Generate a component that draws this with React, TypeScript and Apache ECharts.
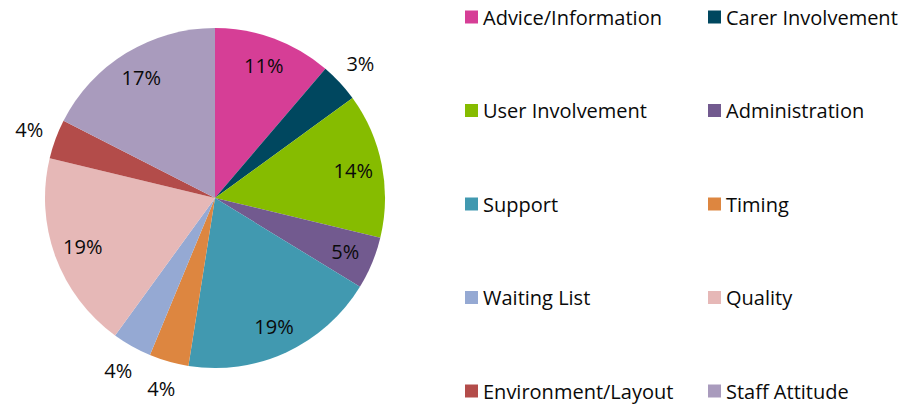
import React, { useEffect, useRef } from "react";
import * as echarts from "echarts";

const categories = [
  "Advice/Information",
  "Carer Involvement",
  "User Involvement",
  "Administration",
  "Support",
  "Timing",
  "Waiting List",
  "Quality",
  "Environment/Layout",
  "Staff Attitude",
];
const counts = [9, 3, 11, 4, 15, 3, 3, 15, 3, 14];
const percentLabels = ["11%", "3%", "14%", "5%", "19%", "4%", "4%", "19%", "4%", "17%"];
const labelOutside = [false, true, false, false, false, true, true, false, true, false];
const colors = [
  "#D63E96",
  "#00475F",
  "#86BC00",
  "#725A8F",
  "#4199B0",
  "#DD8640",
  "#95A9D3",
  "#E6B8B7",
  "#B34C4A",
  "#A99BBD",
];
const leftColumn = [categories[0], categories[2], categories[4], categories[6], categories[8]];
const rightColumn = [categories[1], categories[3], categories[5], categories[7], categories[9]];

const FONT = "Open Sans";

export default function App() {
  const ref = useRef<HTMLDivElement>(null);
  useEffect(() => {
    if (!ref.current) return;
    const chart = echarts.init(ref.current, undefined, { renderer: "svg" });
    const base = categories.map((name, i) => ({ name, value: counts[i] }));
    const labelStyle = {
      color: "#0a0a0a",
      fontFamily: FONT,
      fontSize: 20,
      formatter: (p: any) => percentLabels[p.dataIndex],
    };
    const legendCommon = {
      type: "plain" as const,
      orient: "vertical" as const,
      top: 7,
      height: 400,
      padding: 0,
      itemWidth: 13,
      itemHeight: 13,
      itemGap: 73.5,
      icon: "rect",
      selectedMode: false,
      textStyle: { fontFamily: FONT, fontSize: 20, color: "#0a0a0a", lineHeight: 20 },
    };
    chart.setOption({
      animation: false,
      color: colors,
      legend: [
        { ...legendCommon, left: 465, data: leftColumn },
        { ...legendCommon, left: 708, data: rightColumn },
      ],
      series: [
        {
          type: "pie",
          center: [215, 198],
          radius: [0, 170],
          startAngle: 90,
          clockwise: true,
          silent: true,
          label: { show: false },
          labelLine: { show: false },
          itemStyle: { borderWidth: 0 },
          data: base.map((d, i) => ({ ...d, itemStyle: { color: colors[i] } })),
        },
        {
          type: "pie",
          center: [215, 198],
          radius: [106, 170],
          startAngle: 90,
          clockwise: true,
          silent: true,
          legendHoverLink: false,
          itemStyle: { color: "rgba(0,0,0,0)", borderWidth: 0 },
          label: { ...labelStyle, position: "inside" },
          labelLine: { show: false },
          data: base.map((d, i) => ({
            ...d,
            name: d.name + " ",
            label: { show: !labelOutside[i] },
          })),
        },
        {
          type: "pie",
          center: [215, 198],
          radius: [170, 220],
          startAngle: 90,
          clockwise: true,
          silent: true,
          legendHoverLink: false,
          itemStyle: { color: "rgba(0,0,0,0)", borderWidth: 0 },
          label: { ...labelStyle, position: "inside" },
          labelLine: { show: false },
          data: base.map((d, i) => ({
            ...d,
            name: d.name + "  ",
            label: { show: labelOutside[i] },
          })),
        },
      ],
    });
    return () => chart.dispose();
  }, []);
  return (
    <div
      ref={ref}
      style={{ position: "absolute", left: 0, top: 0, width: 924, height: 405, background: "#fff" }}
    />
  );
}
